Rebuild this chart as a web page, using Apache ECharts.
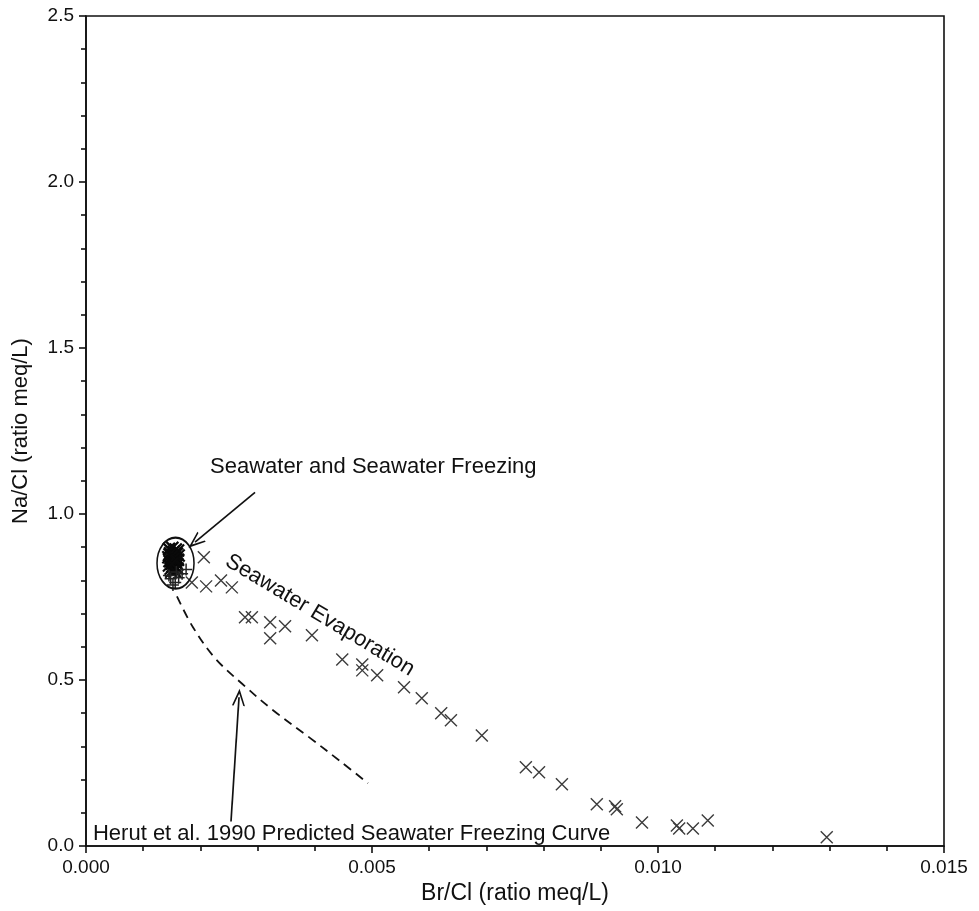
<!DOCTYPE html>
<html>
<head>
<meta charset="utf-8">
<script src="https://cdn.jsdelivr.net/npm/echarts@6/dist/echarts.min.js"></script>
<style>html,body{margin:0;padding:0;background:#fff;}#chart{width:979px;height:911px;}</style>
</head>
<body>
<div id="chart"></div>
<script>
// ---- data ----
const xTickLabels = ['0.000', '0.005', '0.010', '0.015'];
const yTickLabels = ['0.0', '0.5', '1.0', '1.5', '2.0', '2.5'];

// Seawater evaporation samples (x markers)
const evapBrCl = [0.00206, 0.00185, 0.00210, 0.00236, 0.00255, 0.00278, 0.00290, 0.00322, 0.00348, 0.00322,
  0.00395, 0.00448, 0.00483, 0.00483, 0.00509, 0.00556, 0.00587, 0.00621, 0.00638, 0.00692,
  0.00769, 0.00792, 0.00832, 0.00893, 0.00925, 0.00928, 0.00972, 0.01033, 0.01037, 0.01061,
  0.01087, 0.01295];
const evapNaCl = [0.870, 0.794, 0.782, 0.800, 0.779, 0.689, 0.689, 0.674, 0.662, 0.626,
  0.635, 0.562, 0.547, 0.529, 0.514, 0.478, 0.445, 0.400, 0.379, 0.333,
  0.237, 0.222, 0.186, 0.126, 0.120, 0.111, 0.071, 0.062, 0.053, 0.053,
  0.077, 0.026];

// Seawater and seawater freezing cluster (x markers)
const seaBrCl = [0.00145, 0.00151, 0.00157, 0.00161, 0.00147, 0.00153, 0.00159, 0.00162, 0.00144, 0.00150,
  0.00156, 0.00161, 0.00146, 0.00152, 0.00158, 0.00160, 0.00145, 0.00151, 0.00157, 0.00148,
  0.00154, 0.00160, 0.00149, 0.00155, 0.00146, 0.00152, 0.00158, 0.00150];
const seaNaCl = [0.895, 0.898, 0.893, 0.890, 0.882, 0.886, 0.880, 0.875, 0.870, 0.872,
  0.868, 0.862, 0.858, 0.855, 0.852, 0.848, 0.845, 0.842, 0.840, 0.835,
  0.832, 0.836, 0.826, 0.828, 0.878, 0.865, 0.860, 0.850];
// freezing samples (+ markers)
const frzBrCl = [0.00175, 0.00156, 0.00148, 0.00162, 0.00152, 0.00145, 0.00168, 0.00158];
const frzNaCl = [0.833, 0.794, 0.805, 0.808, 0.786, 0.815, 0.820, 0.825];

// Herut et al. 1990 predicted freezing curve (dashed)
const curveBrCl = [0.00159, 0.00187, 0.00226, 0.00278, 0.00327, 0.00392, 0.00444, 0.00493];
const curveNaCl = [0.752, 0.659, 0.565, 0.481, 0.409, 0.325, 0.256, 0.189];

const zip = (a, b) => a.map((v, i) => [v, b[i]]);

const crossPath = 'path://M0,0L10,10M10,0L0,10';
const plusPath = 'path://M5,0L5,10M0,5L10,5';
const chevron = 'path://M0,12L6,0L12,12L10.5,12L6,3.4L1.5,12Z';
const ink = '#111';
const font = '"Liberation Sans", Arial, sans-serif';

const chart = echarts.init(document.getElementById('chart'), null, {renderer: 'canvas'});
const textSeries = (pos, text, opts) => ({
  type: 'scatter', symbolSize: 0, silent: true, z: 5,
  data: [pos],
  itemStyle: {opacity: 1},
  label: Object.assign({show: true, formatter: text, color: ink, fontSize: 22, fontFamily: font}, opts)
});

chart.setOption({
  animation: false,
  backgroundColor: '#fff',
  grid: {left: 86, right: 35, top: 16, bottom: 65, show: true, borderColor: ink, borderWidth: 1.6, backgroundColor: 'transparent'},
  xAxis: {
    type: 'value', min: 0, max: 0.015, interval: 0.005,
    name: 'Br/Cl (ratio meq/L)', nameLocation: 'middle', nameGap: 30,
    nameTextStyle: {color: ink, fontSize: 23, fontFamily: font},
    axisLine: {show: true, onZero: false, lineStyle: {color: ink, width: 1.6}},
    axisTick: {show: true, inside: false, length: 7, lineStyle: {color: ink, width: 1.6}},
    minorTick: {show: true, splitNumber: 5, length: 5, lineStyle: {color: ink, width: 1.6}},
    splitLine: {show: false},
    axisLabel: {color: ink, fontSize: 19, fontFamily: font, margin: 12,
      formatter: v => xTickLabels[Math.round(v / 0.005)]}
  },
  yAxis: {
    type: 'value', min: 0, max: 2.5, interval: 0.5,
    name: 'Na/Cl (ratio meq/L)', nameLocation: 'middle', nameGap: 54,
    nameTextStyle: {color: ink, fontSize: 22, fontFamily: font},
    axisLine: {show: true, onZero: false, lineStyle: {color: ink, width: 1.6}},
    axisTick: {show: true, inside: false, length: 7, lineStyle: {color: ink, width: 1.6}},
    minorTick: {show: true, splitNumber: 5, length: 5, lineStyle: {color: ink, width: 1.6}},
    splitLine: {show: false},
    axisLabel: {color: ink, fontSize: 19, fontFamily: font, margin: 12,
      formatter: v => yTickLabels[Math.round(v / 0.5)]}
  },
  series: [
    {
      name: 'Herut curve', type: 'line', smooth: 0.35, symbol: 'none', z: 2,
      data: zip(curveBrCl, curveNaCl),
      lineStyle: {color: ink, width: 1.8, type: [9, 6]},
      markLine: {
        silent: true, symbol: ['none', chevron], symbolSize: [13, 17],
        lineStyle: {color: ink, width: 1.7, type: 'solid'}, label: {show: false},
        data: [
          [{coord: [0.002955, 1.065]}, {coord: [0.001906, 0.915]}],
          [{coord: [0.002535, 0.074]}, {coord: [0.002675, 0.448]}]
        ]
      }
    },
    {
      name: 'Evaporation', type: 'scatter', symbol: crossPath, symbolSize: 12, z: 3,
      data: zip(evapBrCl, evapNaCl),
      itemStyle: {color: 'transparent', borderColor: '#3c3c3c', borderWidth: 1.4, opacity: 1}
    },
    {
      name: 'Seawater', type: 'scatter', symbol: crossPath, symbolSize: 12, z: 3,
      data: zip(seaBrCl, seaNaCl),
      itemStyle: {color: 'transparent', borderColor: '#0a0a0a', borderWidth: 2.2, opacity: 1}
    },
    {
      name: 'Freezing', type: 'scatter', symbol: plusPath, symbolSize: 12, z: 3,
      data: zip(frzBrCl, frzNaCl),
      itemStyle: {color: 'transparent', borderColor: '#222', borderWidth: 1.5, opacity: 1}
    },
    {
      name: 'Ellipse', type: 'scatter', symbol: 'circle', symbolSize: [37, 51], z: 4, silent: true,
      data: [[0.001565, 0.852]],
      itemStyle: {color: 'transparent', borderColor: ink, borderWidth: 1.8, opacity: 1}
    },
    textSeries([0.002168, 1.141], 'Seawater and Seawater Freezing', {position: 'right', distance: 0, align: 'left', verticalAlign: 'middle'}),
    textSeries([0.00409, 0.695], 'Seawater Evaporation', {position: 'inside', rotate: -31, align: 'center', verticalAlign: 'middle'}),
    textSeries([0.000122, 0.0367], 'Herut et al. 1990 Predicted Seawater Freezing Curve', {position: 'right', distance: 0, align: 'left', verticalAlign: 'middle'})
  ]
});
</script>
</body>
</html>
